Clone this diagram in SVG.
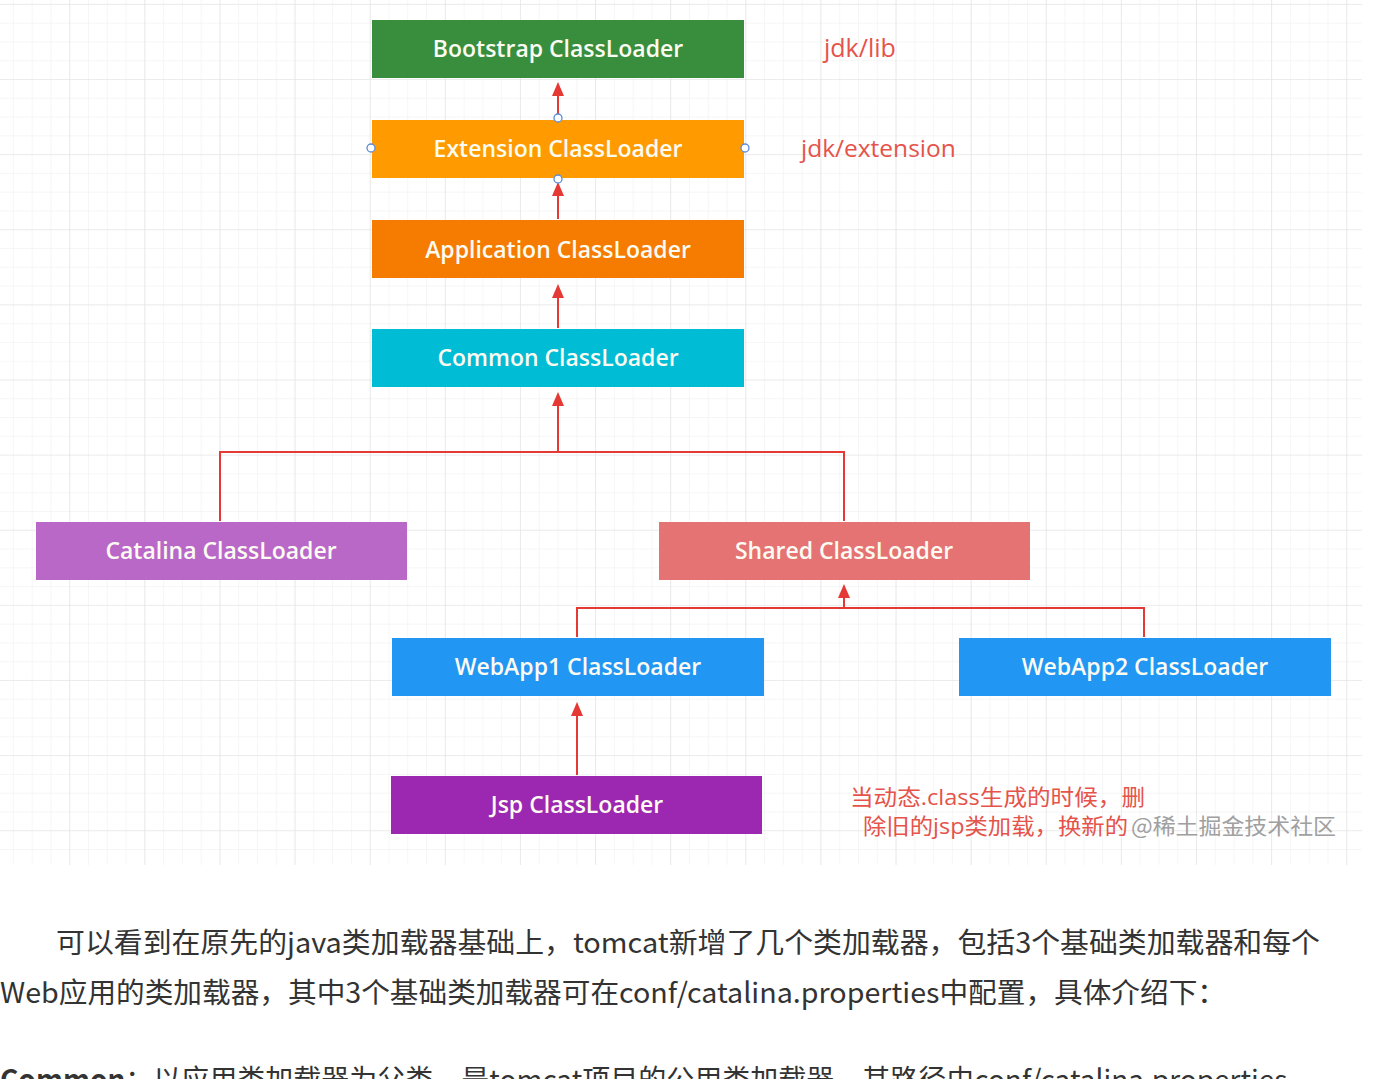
<svg xmlns="http://www.w3.org/2000/svg" width="1400" height="1079" viewBox="0 0 1400 1079">
<defs>
<pattern id="minor" x="12.9" y="3.9" width="18.78" height="18.78" patternUnits="userSpaceOnUse">
<path d="M0 0V18.78M0 0H18.78" fill="none" stroke="#eeeeee" stroke-width="1"/>
</pattern>
<pattern id="major" x="69.2" y="79" width="75.12" height="75.12" patternUnits="userSpaceOnUse">
<path d="M0 0V75.12M0 0H75.12" fill="none" stroke="#e2e2e2" stroke-width="1.2"/>
</pattern>
<marker id="arr" viewBox="0 0 14 16" refX="0" refY="8" markerWidth="14" markerHeight="16" markerUnits="userSpaceOnUse" orient="auto">
<path d="M0 2L14 8L0 14Z" fill="#e53935"/>
</marker>
<style>
.node text{font-family:"Open Sans","Noto Sans",sans-serif;font-size:23px;font-weight:600;fill:#fbfbf2;text-anchor:middle}
.conn path{fill:none;stroke:#e53935;stroke-width:2}
.handle{fill:#ffffff;stroke:#5b8bd6;stroke-width:1.3}
.note{font-family:"Open Sans","Noto Sans CJK SC",sans-serif;fill:#e5534b}
.body{font-family:"Noto Sans CJK SC","Noto Sans",sans-serif;font-size:28px;fill:#333333}
</style>
</defs>
<rect width="1400" height="1079" fill="#ffffff"/>
<rect x="0" y="0" width="1362" height="865" fill="url(#minor)"/>
<rect x="0" y="0" width="1362" height="865" fill="url(#major)"/>

<g id="connectors" class="conn">
<path d="M558 118V96" marker-end="url(#arr)"/>
<path d="M558 219V196" marker-end="url(#arr)"/>
<path d="M558 328V298" marker-end="url(#arr)"/>
<path d="M220 521V452H844V521"/>
<path d="M558 452V406" marker-end="url(#arr)"/>
<path d="M577 637V608H1144V637"/>
<path d="M844 608V598" marker-end="url(#arr)"/>
<path d="M577 775V716" marker-end="url(#arr)"/>
</g>

<g id="bootstrap" class="node"><rect x="372" y="20" width="372" height="58" fill="#388e3c"/><text x="558" y="57">Bootstrap ClassLoader</text></g>
<g id="extension" class="node"><rect x="372" y="120" width="372" height="58" fill="#ff9b00"/><text x="558" y="157">Extension ClassLoader</text></g>
<g id="application" class="node"><rect x="372" y="220" width="372" height="58" fill="#f57c00"/><text x="558" y="258">Application ClassLoader</text></g>
<g id="common" class="node"><rect x="372" y="329" width="372" height="58" fill="#00bcd4"/><text x="558" y="366">Common ClassLoader</text></g>
<g id="catalina" class="node"><rect x="36" y="522" width="371" height="58" fill="#ba68c8"/><text x="221" y="559">Catalina ClassLoader</text></g>
<g id="shared" class="node"><rect x="659" y="522" width="371" height="58" fill="#e57373"/><text x="844" y="559">Shared ClassLoader</text></g>
<g id="webapp1" class="node"><rect x="392" y="638" width="372" height="58" fill="#2196f3"/><text x="578" y="675">WebApp1 ClassLoader</text></g>
<g id="webapp2" class="node"><rect x="959" y="638" width="372" height="58" fill="#2196f3"/><text x="1145" y="675">WebApp2 ClassLoader</text></g>
<g id="jsp" class="node"><rect x="391" y="776" width="371" height="58" fill="#9c27b0"/><text x="577" y="813">Jsp ClassLoader</text></g>

<g id="handles">
<circle class="handle" cx="558" cy="118" r="4"/>
<circle class="handle" cx="558" cy="179" r="4"/>
<circle class="handle" cx="371" cy="148" r="4"/>
<circle class="handle" cx="745" cy="148" r="4"/>
</g>

<g id="labels">
<text class="note" x="824" y="57" font-size="25">jdk/lib</text>
<text class="note" x="801" y="157" font-size="24.5">jdk/extension</text>
<text class="note" x="850" y="805" font-size="22" textLength="295" lengthAdjust="spacingAndGlyphs">当动态.class生成的时候，删</text>
<text class="note" x="863" y="834" font-size="22" textLength="265" lengthAdjust="spacingAndGlyphs">除旧的jsp类加载，换新的</text>
<text x="1131" y="834" font-size="22" fill="#a0a0a0" font-family="Noto Sans CJK SC, sans-serif" textLength="205" lengthAdjust="spacingAndGlyphs">@稀土掘金技术社区</text>
</g>

<g id="body-text">
<text class="body" x="56" y="953" textLength="1264" lengthAdjust="spacingAndGlyphs">可以看到在原先的java类加载器基础上，tomcat新增了几个类加载器，包括3个基础类加载器和每个</text>
<text class="body" x="0" y="1003" textLength="1226" lengthAdjust="spacingAndGlyphs">Web应用的类加载器，其中3个基础类加载器可在conf/catalina.properties中配置，具体介绍下：</text>
<text class="body" x="0" y="1090"><tspan font-weight="bold">Common</tspan>：以应用类加载器为父类，是tomcat项目的公用类加载器，其路径由conf/catalina.properties</text>
</g>
</svg>
